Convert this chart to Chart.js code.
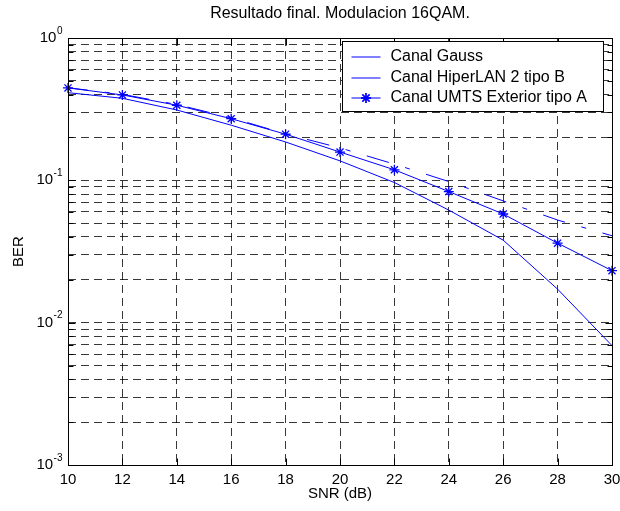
<!DOCTYPE html>
<html>
<head>
<meta charset="utf-8">
<title>Resultado final. Modulacion 16QAM.</title>
<script src="https://cdn.jsdelivr.net/npm/chart.js@4.4.0/dist/chart.umd.min.js"></script>
<style>
  html, body { margin: 0; padding: 0; background: #fff; }
  #wrap { position: relative; width: 620px; height: 511px; }
</style>
</head>
<body>
<div id="wrap"><canvas id="berChart"></canvas></div>
<script>
// SNR sweep and measured BER per channel model
const snrDb = [10, 12, 14, 16, 18, 20, 22, 24, 26, 28, 30];
const berGauss = [0.413, 0.377, 0.312, 0.244, 0.186, 0.137, 0.0965, 0.0618, 0.038, 0.0172, 0.0069];
const berHiperlan = [0.447, 0.402, 0.341, 0.275, 0.212, 0.169, 0.130, 0.098, 0.0717, 0.0526, 0.0408];
const berUmts = [0.446, 0.398, 0.337, 0.271, 0.211, 0.158, 0.1186, 0.0834, 0.058, 0.0362, 0.0232];

const seriesLabels = ["Canal Gauss", "Canal HiperLAN 2 tipo B", "Canal UMTS Exterior tipo A"];

// axis ticks
const xTickValues = [10, 12, 14, 16, 18, 20, 22, 24, 26, 28, 30];
const yDecadeValues = [0.001, 0.01, 0.1, 1];
const yDecadeExponents = ["-3", "-2", "-1", "0"];
const yMinorSteps = [2, 3, 4, 5, 6, 7, 8, 9];

const FONT = "'Liberation Sans', Arial, Helvetica, sans-serif";
const BLUE = "rgb(0,0,255)";
const GRID = "rgba(0,0,0,0.78)";

// every decade plus its 2..9 minor lines (log grid)
const yMinorValues = [];
yDecadeValues.slice(0, -1).forEach(d => yMinorSteps.forEach(m => yMinorValues.push(+(d * m).toPrecision(3))));
const yGridValues = yDecadeValues.concat(yMinorValues).sort((a, b) => a - b);

Chart.defaults.font.family = FONT;
Chart.defaults.color = "#000";

/**
 * Box, inward ticks, superscript y labels and the legend, drawn on top
 */
const axesFrame = {
    id: "axesFrame",
    afterDraw(chart) {
        const { ctx, chartArea: a, scales: { x, y } } = chart;
        const L = Math.round(a.left) + 0.5, R = Math.round(a.right) + 0.5;
        const T = Math.round(a.top) + 0.5, B = Math.round(a.bottom) + 0.5;

        ctx.save();
        ctx.setLineDash([]);
        ctx.strokeStyle = "#000";
        ctx.lineWidth = 1;
        ctx.strokeRect(L, T, R - L, B - T);

        ctx.beginPath();
        xTickValues.forEach(v => {
            const px = Math.round(x.getPixelForValue(v)) + 0.5;
            ctx.moveTo(px, B); ctx.lineTo(px, B - 7);
            ctx.moveTo(px, T); ctx.lineTo(px, T + 7);
        });
        yGridValues.forEach(v => {
            const py = Math.round(y.getPixelForValue(v)) + 0.5;
            const len = yDecadeValues.includes(v) ? 7 : 5;
            ctx.moveTo(L, py); ctx.lineTo(L + len, py);
            ctx.moveTo(R, py); ctx.lineTo(R - len, py);
        });
        ctx.stroke();

        // 10^n labels
        ctx.fillStyle = "#000";
        ctx.textBaseline = "middle";
        ctx.textAlign = "right";
        yDecadeValues.forEach((v, i) => {
            const py = y.getPixelForValue(v);
            ctx.font = "10px " + FONT;
            const expW = ctx.measureText(yDecadeExponents[i]).width;
            ctx.fillText(yDecadeExponents[i], L - 6, py - 7);
            ctx.font = "15px " + FONT;
            ctx.fillText("10", L - 6 - expW - 0.5, py);
        });

        // legend
        ctx.font = "16px " + FONT;
        const textW = Math.max(...seriesLabels.map(s => ctx.measureText(s).width));
        const boxW = Math.round(48 + textW + 16);
        const boxR = Math.round(a.right) - 9;
        const boxL = boxR - boxW + 0.5;
        const boxT = Math.round(a.top) + 3.5;
        const boxH = 70;
        ctx.fillStyle = "#fff";
        ctx.fillRect(boxL, boxT, boxW, boxH);
        ctx.strokeStyle = "#000";
        ctx.strokeRect(boxL, boxT, boxW, boxH);

        chart.data.datasets.forEach((ds, i) => {
            const ry = Math.round(boxT + 15.5 + i * 20.5);
            ctx.strokeStyle = ds.borderColor;
            ctx.lineWidth = 1;
            ctx.beginPath();
            ctx.moveTo(boxL + 9, ry);
            ctx.lineTo(boxL + 38, ry);
            ctx.stroke();
            if (ds.pointStyle === "star") {
                ctx.lineWidth = ds.pointBorderWidth;
                Chart.helpers.drawPoint(ctx, { pointStyle: "star", radius: ds.pointRadius, borderWidth: ds.pointBorderWidth, rotation: 0 }, boxL + 23.5, ry);
                ctx.stroke();
            }
            ctx.fillStyle = "#000";
            ctx.textAlign = "left";
            ctx.textBaseline = "middle";
            ctx.fillText(ds.label, boxL + 48, ry);
        });
        ctx.restore();
    }
};

new Chart(document.getElementById("berChart"), {
    type: "line",
    data: {
        datasets: [
            {
                label: seriesLabels[0],
                data: snrDb.map((s, i) => ({ x: s, y: berGauss[i] })),
                borderColor: BLUE,
                borderWidth: 1,
                pointRadius: 0,
                tension: 0
            },
            {
                label: seriesLabels[1],
                data: snrDb.map((s, i) => ({ x: s, y: berHiperlan[i] })),
                borderColor: BLUE,
                borderWidth: 1,
                borderDash: [23, 17, 5, 17],
                borderDashOffset: 3,
                pointRadius: 0,
                tension: 0
            },
            {
                label: seriesLabels[2],
                data: snrDb.map((s, i) => ({ x: s, y: berUmts[i] })),
                borderColor: BLUE,
                borderWidth: 1,
                pointStyle: "star",
                pointRadius: 5,
                pointBorderColor: BLUE,
                pointBorderWidth: 1.3,
                tension: 0,
                clip: false
            }
        ]
    },
    options: {
        responsive: true,
        maintainAspectRatio: false,
        animation: false,
        events: [],
        layout: { padding: { top: 1, left: 4, right: 8, bottom: 4 } },
        plugins: {
            legend: { display: false },
            tooltip: { enabled: false },
            title: {
                display: true,
                fullSize: false,
                text: "Resultado final. Modulacion 16QAM.",
                color: "#000",
                font: { size: 16, weight: "normal" },
                padding: { top: 3.4, bottom: 14.4 }
            }
        },
        scales: {
            x: {
                type: "linear",
                min: 10,
                max: 30,
                afterBuildTicks: s => { s.ticks = xTickValues.map(v => ({ value: v })); },
                // let the end labels overhang the canvas edge
                afterFit: s => { s.paddingLeft = 0; s.paddingRight = 0; },
                ticks: { color: "#000", padding: 7, font: { size: 15, lineHeight: 1 }, maxRotation: 0 },
                grid: { color: GRID, lineWidth: 1, drawTicks: false },
                border: { display: false, dash: [8, 5] },
                title: {
                    display: true,
                    text: "SNR (dB)",
                    color: "#000",
                    font: { size: 15 },
                    padding: { top: -9, bottom: 4 }
                }
            },
            y: {
                type: "logarithmic",
                min: 0.001,
                max: 1,
                afterBuildTicks: s => { s.ticks = yGridValues.map(v => ({ value: v })); },
                ticks: { display: false },
                grid: { color: GRID, lineWidth: 1, drawTicks: false },
                border: { display: false, dash: [8, 5] },
                title: {
                    display: true,
                    text: "BER",
                    color: "#000",
                    font: { size: 15 },
                    padding: { top: 6, bottom: 40 }
                }
            }
        }
    },
    plugins: [axesFrame]
});
</script>
</body>
</html>
